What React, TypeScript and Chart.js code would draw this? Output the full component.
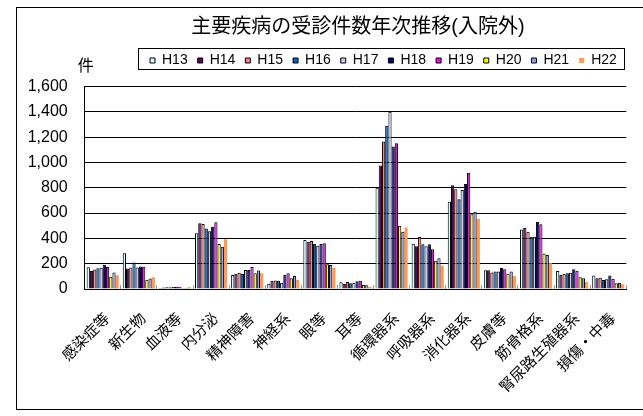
import { useEffect, useRef } from "react";
import { Chart, registerables } from "chart.js";

Chart.register(...registerables);

const categories = [
  "感染症等", "新生物", "血液等", "内分泌", "精神障害", "神経系", "眼等", "耳等",
  "循環器系", "呼吸器系", "消化器系", "皮膚等", "筋骨格系", "腎尿路生殖器系", "損傷・中毒",
];

const seriesNames = ["H13", "H14", "H15", "H16", "H17", "H18", "H19", "H20", "H21", "H22"];

const h13 = [171, 282, 8, 440, 110, 42, 387, 53, 800, 358, 690, 149, 470, 142, 106];
const h14 = [142, 162, 12, 519, 121, 66, 374, 40, 975, 337, 819, 149, 482, 110, 85];
const h15 = [155, 170, 13, 513, 129, 68, 379, 55, 1165, 411, 788, 131, 453, 121, 89];
const h16 = [163, 210, 14, 479, 118, 66, 355, 45, 1290, 353, 709, 138, 413, 124, 72];
const h17 = [168, 170, 15, 456, 150, 50, 342, 50, 1400, 337, 782, 138, 413, 129, 77];
const h18 = [192, 178, 18, 492, 150, 113, 355, 61, 1125, 353, 830, 166, 529, 156, 106];
const h19 = [173, 176, 18, 527, 174, 124, 361, 66, 1152, 314, 919, 157, 511, 145, 81];
const h20 = [97, 74, 8, 355, 124, 84, 195, 32, 500, 224, 590, 120, 280, 92, 45];
const h21 = [130, 83, 10, 334, 147, 103, 190, 29, 453, 242, 611, 138, 268, 84, 50];
const h22 = [109, 92, 14, 393, 124, 71, 168, 18, 485, 184, 553, 103, 204, 55, 37];

const seriesValues = [h13, h14, h15, h16, h17, h18, h19, h20, h21, h22];

const seriesColors = [
  "#CCFFFF", "#660066", "#FF8080", "#0066CC", "#CCCCFF",
  "#000080", "#FF00FF", "#FFFF00", "#9999FF", "#FF9A50",
];
const seriesBorders = [1, 1, 1, 1, 1, 1, 1, 1, 1, 0];

const yMin = 0;
const yMax = 1600;
const yStep = 200;
const unitLabel = "件";
const chartTitle = "主要疾病の受診件数年次推移(入院外)";

const FONT = '"Liberation Sans", "Noto Sans CJK JP", sans-serif';
const TITLE_CENTER = 358;
const LEGEND_START = 150;

const tweakPlugin = {
  id: "tweak",
  afterLayout(chart: any) {
    const t = chart.titleBlock;
    if (t) {
      const w = t.right - t.left;
      t.left = TITLE_CENTER - w / 2;
      t.right = TITLE_CENTER + w / 2;
    }
    const lg = chart.legend;
    if (lg && lg.lineWidths) {
      const pad = lg.options.labels.padding;
      const start = (lg.left + pad + lg.right - lg.lineWidths[0]) / 2;
      const d = LEGEND_START - start;
      lg.left += d;
      lg.right += d;
    }
  },
  afterDraw(chart: any) {
    const ctx = chart.ctx;
    const lg = chart.legend;
    const hb = lg && lg.legendHitBoxes;
    if (hb && hb.length) {
      const first = hb[0];
      const last = hb[hb.length - 1];
      const mid = first.top + first.height / 2;
      const x1 = Math.round(first.left - 12) + 0.5;
      const x2 = Math.round(last.left + last.width + 7) + 0.5;
      const y1 = Math.round(mid - 13) + 0.5;
      const y2 = Math.round(mid + 8) + 0.5;
      ctx.save();
      ctx.strokeStyle = "#000";
      ctx.lineWidth = 1;
      ctx.strokeRect(x1, y1, x2 - x1, y2 - y1);
      ctx.restore();
    }
    const area = chart.chartArea;
    ctx.save();
    ctx.fillStyle = "#000";
    ctx.font = `16px ${FONT}`;
    ctx.textAlign = "center";
    ctx.textBaseline = "middle";
    ctx.fillText(unitLabel, area.left + 1, area.top - 20);
    ctx.restore();
  },
};

export default function App() {
  const canvasRef = useRef<HTMLCanvasElement | null>(null);

  useEffect(() => {
    if (!canvasRef.current) return;
    const chart = new Chart(canvasRef.current, {
      type: "bar",
      data: {
        labels: categories,
        datasets: seriesNames.map((name, i) => ({
          label: name,
          data: seriesValues[i],
          backgroundColor: seriesColors[i],
          borderColor: "#000",
          borderWidth: seriesBorders[i],
          categoryPercentage: 0.89,
          barPercentage: 1.0,
        })),
      },
      options: {
        animation: false,
        responsive: true,
        maintainAspectRatio: false,
        layout: { padding: { left: 0, right: 0.6, top: 0, bottom: 0 } },
        plugins: {
          title: {
            display: true,
            text: chartTitle,
            color: "#000",
            font: { family: FONT, size: 20, weight: "normal" },
            padding: { top: 15, bottom: 4.5 },
          },
          subtitle: {
            display: true,
            text: " ",
            weight: 500,
            font: { size: 1 },
            padding: { top: 0, bottom: 7.8 },
          } as any,
          legend: {
            display: true,
            position: "top",
            labels: {
              color: "#000",
              font: { family: FONT, size: 14 },
              boxWidth: 5,
              boxHeight: 5,
              padding: 10,
            },
          },
          tooltip: { enabled: false },
        },
        scales: {
          x: {
            grid: {
              display: true,
              drawOnChartArea: false,
              drawTicks: true,
              tickLength: -4,
              color: "#999",
              offset: true,
            },
            border: { display: true, color: "#000", width: 1 },
            ticks: {
              autoSkip: false,
              maxRotation: 45,
              minRotation: 45,
              padding: 25,
              labelOffset: 5,
              color: "#000",
              font: { family: FONT, size: 15 },
            },
            afterFit: (scale: any) => {
              scale.height = 127;
            },
          },
          y: {
            min: yMin,
            max: yMax,
            ticks: {
              stepSize: yStep,
              padding: 17,
              color: "#000",
              font: { family: FONT, size: 16 },
              callback: (v: any) => Number(v).toLocaleString("en-US"),
            },
            grid: { color: "#000", lineWidth: 1, drawTicks: false },
            border: { display: true, color: "#000", width: 1 },
            afterFit: (scale: any) => {
              scale.width = 84.7;
            },
          },
        },
      },
      plugins: [tweakPlugin],
    });
    return () => chart.destroy();
  }, []);

  return (
    <div style={{ position: "absolute", left: 0, top: 0, width: 643, height: 416, overflow: "hidden", background: "#fff" }}>
      <div
        style={{
          position: "absolute",
          left: 16,
          top: 7,
          width: 1000,
          height: 403,
          border: "1px solid #000",
          boxSizing: "border-box",
        }}
      />
      <div style={{ position: "absolute", left: 0, top: 0, width: 646, height: 416 }}>
        <canvas ref={canvasRef} />
      </div>
    </div>
  );
}
